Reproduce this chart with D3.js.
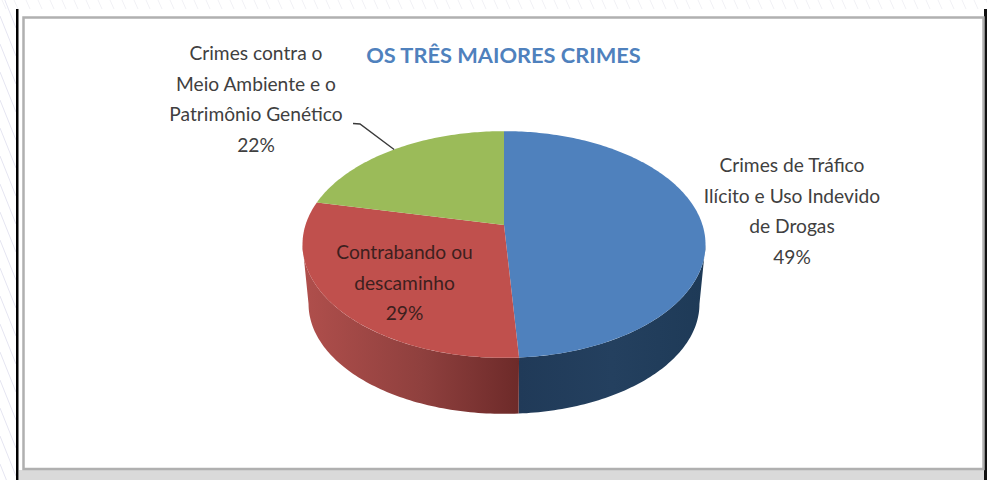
<!DOCTYPE html>
<html><head><meta charset="utf-8">
<script src="https://cdn.jsdelivr.net/npm/d3@7"></script>
<style>html,body{margin:0;padding:0;background:#fff;overflow:hidden}svg{display:block}text{font-family:Lato,"Open Sans",sans-serif}</style>
</head><body><svg id="c" width="987" height="480"></svg>
<script>
const categories = ["Crimes de Tráfico Ilícito e Uso Indevido de Drogas", "Contrabando ou descaminho", "Crimes contra o Meio Ambiente e o Patrimônio Genético"];
const values = [49, 29.4, 21.6];
const percentLabels = ["49%", "29%", "22%"];
const labelLines = [
  ["Crimes de Tráfico", "Ilícito e Uso Indevido", "de Drogas"],
  ["Contrabando ou", "descaminho"],
  ["Crimes contra o", "Meio Ambiente e o", "Patrimônio Genético"]
];
const labelAnchors = [[792, 172], [404.5, 259], [256, 60]];
const topColors = ["#4f81bd", "#c0504d", "#9bbb59"];
const sideStops = [
  [["0%", "#203a58"], ["50%", "#24405f"], ["100%", "#1e3a57"]],
  [["0%", "#b04f4c"], ["55%", "#8f403e"], ["100%", "#6d2a29"]],
  [["0%", "#9bbb59"], ["100%", "#9bbb59"]]
];
const titleText = "OS TRÊS MAIORES CRIMES";

const svg = d3.select("#c");
const defs = svg.append("defs");

// faint page pattern behind the chart frame
const bg = svg.append("g").attr("fill", "none");
d3.range(-10, 990, 12).forEach(x => {
  bg.append("line").attr("stroke", "#f1f1f5").attr("x1", x).attr("y1", 0).attr("x2", x + 4).attr("y2", 9);
});
d3.range(-40, 480, 28).forEach(y => {
  bg.append("line").attr("stroke", "#e5e5f1").attr("x1", 0).attr("y1", y).attr("x2", 16).attr("y2", y + 40);
});

// frame
svg.append("rect").attr("x", 19).attr("y", 470).attr("width", 965).attr("height", 10).attr("fill", "#dadada");
svg.append("rect").attr("x", 16).attr("y", 9).attr("width", 2.5).attr("height", 471).attr("fill", "#000");
svg.append("rect").attr("x", 984).attr("y", 9).attr("width", 3).attr("height", 471).attr("fill", "#111");
svg.append("rect").attr("x", 23.5).attr("y", 17.5).attr("width", 960).attr("height", 451.5)
  .attr("fill", "#fff").attr("stroke", "#b0b0b0").attr("stroke-width", 2.5);

// projection of a tilted disc
const cx = 504, apexY = 225, k = 0.172, Rx = 198.5, Ry = 110;
const depthY = 60, lowerScale = 0.97;
const pie = d3.pie().sort(null).value(d => d);
const arcs = pie(values);
const sx = d3.scaleLinear().domain([-1, 1]).range([cx - Rx, cx + Rx]);
const sy = d3.scaleLinear().domain([-1, 1]).range([apexY - Ry, apexY + Ry]);
function project(theta, lower) {
  const u = Math.sin(theta), v = -Math.cos(theta), w = 1 - k * v;
  const s = lower ? lowerScale : 1;
  return [cx + (sx(u / w) - cx) * s, (lower ? depthY : 0) + apexY + (sy(v / w) - apexY) * s];
}
const line = d3.line();
const STEP = Math.PI / 180;
const samples = (a, b) => { const n = Math.max(2, Math.ceil((b - a) / STEP)); return d3.range(n + 1).map(i => a + (b - a) * i / n); };

// side walls run between the two silhouette points of the disc
const tangent = Math.acos(-k);
const frontA = tangent, frontB = 2 * Math.PI - tangent;
arcs.forEach((d, i) => {
  const a = Math.max(d.startAngle, frontA), b = Math.min(d.endAngle, frontB);
  if (b <= a) return;
  const id = "side" + i;
  const ts = samples(a, b);
  const pts = ts.map(t => project(t, false)).concat(ts.map(t => project(t, true)).reverse());
  const xs = pts.map(p => p[0]);
  const g = defs.append("linearGradient").attr("id", id).attr("gradientUnits", "userSpaceOnUse")
    .attr("x1", d3.min(xs)).attr("x2", d3.max(xs)).attr("y1", 0).attr("y2", 0);
  sideStops[i].forEach(s => g.append("stop").attr("offset", s[0]).attr("stop-color", s[1]));
  svg.append("path").attr("d", line(pts) + "Z").attr("fill", `url(#${id})`);
});

// top slices
arcs.forEach((d, i) => {
  const pts = [[cx, apexY]].concat(samples(d.startAngle, d.endAngle).map(t => project(t, false)));
  svg.append("path").attr("d", line(pts) + "Z").attr("fill", topColors[i]);
});

// leader line
const leaderAngle = arcs[2].startAngle + (arcs[2].endAngle - arcs[2].startAngle) * 0.5;
const leaderEnd = project(leaderAngle, false);
svg.append("path").attr("fill", "none").attr("stroke", "#3a3a3a").attr("stroke-width", 1.4)
  .attr("d", line([[353, 123.5], [360, 124], leaderEnd]));

// labels
const fs = 19.2, lh = 30.6;
labelLines.forEach((lines, i) => {
  const t = svg.append("text").attr("text-anchor", "middle").attr("fill", i === 1 ? "#3d1f1e" : "#404040").attr("font-size", fs);
  lines.concat([percentLabels[i]]).forEach((s, j) => {
    t.append("tspan").attr("x", labelAnchors[i][0]).attr("y", labelAnchors[i][1] + j * lh).text(s);
  });
});

svg.append("text").attr("x", 503.5).attr("y", 63).attr("text-anchor", "middle")
  .attr("font-size", 21.8).attr("font-weight", 700).attr("fill", "#4f81bd").text(titleText);
</script></body></html>
